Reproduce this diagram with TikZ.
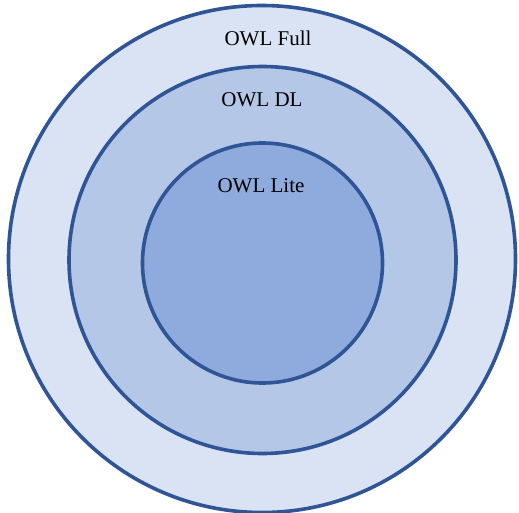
\documentclass[tikz,border=0pt]{standalone}
\usepackage{fontspec}
\setmainfont{Liberation Serif}
\definecolor{ringline}{HTML}{2F5597}
\definecolor{fullfill}{HTML}{DAE3F3}
\definecolor{dlfill}{HTML}{B4C7E7}
\definecolor{litefill}{HTML}{8FAADC}
\begin{document}
\begin{tikzpicture}[x=1pt,y=-1pt,
  ring/.style={draw=ringline,line width=3.6pt},
  lbl/.style={font=\fontsize{21}{24}\selectfont,text=black,inner sep=0pt,anchor=base}]
\useasboundingbox (0,0) rectangle (519,513);
\fill[white] (0,0) rectangle (519,513);
\node[ring,fill=fullfill,circle,minimum size=507pt,inner sep=0pt] (full) at (262,259) {};
\node[ring,fill=dlfill,circle,minimum size=387pt,inner sep=0pt] (dl) at (262.5,260) {};
\node[ring,fill=litefill,circle,minimum size=240pt,inner sep=0pt] (lite) at (262.5,263) {};
\node[lbl] (tfull) at (268,46) {OWL Full};
\node[lbl] (tdl) at (262,107) {OWL DL};
\node[lbl] (tlite) at (261,193) {OWL Lite};
\end{tikzpicture}
\end{document}
